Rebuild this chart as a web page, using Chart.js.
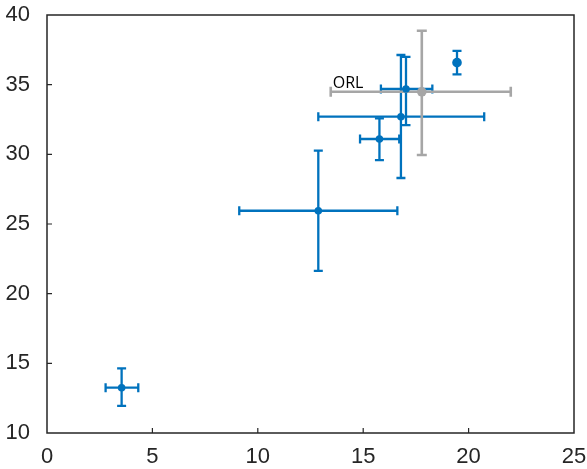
<!DOCTYPE html>
<html>
<head>
<meta charset="utf-8">
<script src="https://cdn.jsdelivr.net/npm/chart.js@4/dist/chart.umd.min.js"></script>
<style>
html,body{margin:0;padding:0;background:#fff;}
#wrap{width:587px;height:469px;position:relative;}
</style>
</head>
<body>
<div id="wrap"><canvas id="c" width="587" height="469"></canvas></div>
<script>
// ---- data ----
const xTicks = [0, 5, 10, 15, 20, 25];
const yTicks = [10, 15, 20, 25, 30, 35, 40];

const blueX     = [3.54, 12.87, 15.77, 16.79, 17.03, 19.45];
const blueY     = [13.25, 25.95, 31.10, 32.70, 34.69, 36.58];
const blueXLow  = [2.78, 9.12, 14.85, 12.87, 15.84, 19.45];
const blueXHigh = [4.33, 16.62, 16.71, 20.74, 18.28, 19.45];
const blueYLow  = [11.95, 21.64, 29.59, 28.30, 32.10, 35.74];
const blueYHigh = [14.64, 30.26, 32.58, 37.13, 37.00, 37.42];

const orlX     = [17.78];
const orlY     = [34.49];
const orlXLow  = [13.46];
const orlXHigh = [22.00];
const orlYLow  = [29.95];
const orlYHigh = [38.87];
const orlLabel = 'ORL';

const BLUE = '#0072BD';
const GRAY = '#A6A6A6';
const AXIS = '#262626';

function pts(xs, ys){ return xs.map((x,i)=>({x:x, y:ys[i]})); }

const errorBars = {
  id: 'errorBars',
  beforeDatasetsDraw(chart){
    const ctx = chart.ctx, xs = chart.scales.x, ys = chart.scales.y;
    const sets = [
      {x:blueX,y:blueY,xl:blueXLow,xh:blueXHigh,yl:blueYLow,yh:blueYHigh,c:BLUE,cap:4.5,w:2.3},
      {x:orlX,y:orlY,xl:orlXLow,xh:orlXHigh,yl:orlYLow,yh:orlYHigh,c:GRAY,cap:5,w:2.6}
    ];
    ctx.save();
    ctx.lineCap = 'butt';
    sets.forEach(s=>{
      ctx.strokeStyle = s.c; ctx.lineWidth = s.w;
      s.x.forEach((xv,i)=>{
        const px = xs.getPixelForValue(xv), py = ys.getPixelForValue(s.y[i]);
        const yl = ys.getPixelForValue(s.yl[i]), yh = ys.getPixelForValue(s.yh[i]);
        const xl = xs.getPixelForValue(s.xl[i]), xh = xs.getPixelForValue(s.xh[i]);
        ctx.beginPath();
        ctx.moveTo(px, yl); ctx.lineTo(px, yh);
        ctx.moveTo(px-s.cap, yl); ctx.lineTo(px+s.cap, yl);
        ctx.moveTo(px-s.cap, yh); ctx.lineTo(px+s.cap, yh);
        if (xh - xl > 1) {
          ctx.moveTo(xl, py); ctx.lineTo(xh, py);
          ctx.moveTo(xl, py-s.cap); ctx.lineTo(xl, py+s.cap);
          ctx.moveTo(xh, py-s.cap); ctx.lineTo(xh, py+s.cap);
        }
        ctx.stroke();
      });
    });
    // ORL label
    ctx.fillStyle = '#000';
    ctx.font = '16px "Open Sans", "Noto Sans", sans-serif';
    ctx.textAlign = 'left'; ctx.textBaseline = 'alphabetic';
    ctx.fillText(orlLabel, xs.getPixelForValue(orlXLow[0]) + 2, ys.getPixelForValue(orlY[0]) - 4);
    ctx.restore();
  },
  afterDraw(chart){
    const ctx = chart.ctx, a = chart.chartArea, xs = chart.scales.x, ys = chart.scales.y;
    ctx.save();
    ctx.strokeStyle = AXIS; ctx.lineWidth = 1.5;
    ctx.strokeRect(a.left, a.top, a.right-a.left, a.bottom-a.top);
    ctx.lineWidth = 1.2;
    ctx.beginPath();
    xTicks.forEach(v=>{ const p = xs.getPixelForValue(v); if (v>xTicks[0] && v<xTicks[xTicks.length-1]) { ctx.moveTo(p, a.bottom); ctx.lineTo(p, a.bottom-5); } });
    yTicks.forEach(v=>{ const p = ys.getPixelForValue(v); if (v>yTicks[0] && v<yTicks[yTicks.length-1]) { ctx.moveTo(a.left, p); ctx.lineTo(a.left+5, p); } });
    ctx.stroke();
    ctx.restore();
  }
};

new Chart(document.getElementById('c'), {
  type: 'scatter',
  data: {
    datasets: [
      {data: pts(blueX, blueY), backgroundColor: BLUE, borderColor: BLUE,
       pointRadius: c => c.dataIndex === 5 ? 4.8 : 3.8, borderWidth: 0},
      {data: pts(orlX, orlY), backgroundColor: GRAY, borderColor: GRAY, pointRadius: 4.8, borderWidth: 0}
    ]
  },
  options: {
    responsive: false,
    animation: false,
    events: [],
    layout: {padding: {left: 0, right: 13, top: 15, bottom: 0}},
    plugins: {legend: {display: false}, tooltip: {enabled: false}},
    scales: {
      x: {
        type: 'linear', min: 0, max: 25,
        afterBuildTicks: s => { s.ticks = xTicks.map(v=>({value:v})); },
        afterFit: s => { s.height = 36; s.paddingLeft = 0; s.paddingRight = 0; },
        grid: {display: false}, border: {display: false},
        ticks: {color: AXIS, font: {family: '"Liberation Sans", Arial, sans-serif', size: 22}, padding: 3, maxRotation: 0}
      },
      y: {
        type: 'linear', min: 10, max: 40,
        afterBuildTicks: s => { s.ticks = yTicks.map(v=>({value:v})); },
        afterFit: s => { s.width = 47; s.paddingTop = 0; s.paddingBottom = 0; },
        grid: {display: false}, border: {display: false},
        ticks: {color: AXIS, font: {family: '"Liberation Sans", Arial, sans-serif', size: 22}, padding: 9}
      }
    }
  },
  plugins: [errorBars]
});
</script>
</body>
</html>
